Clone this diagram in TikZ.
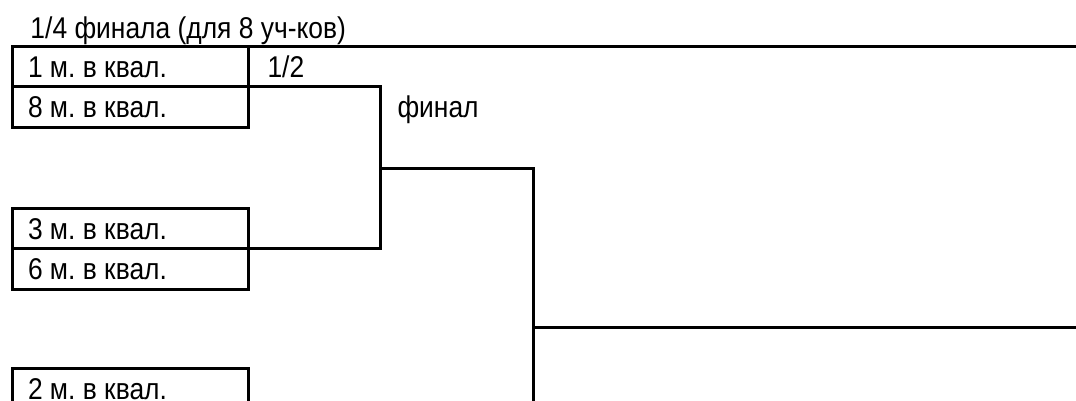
\documentclass[tikz,border=0pt]{standalone}
\usepackage{fontspec}
\setmainfont{Liberation Sans}[FakeStretch=0.88]
\begin{document}
\frenchspacing
\begin{tikzpicture}[x=1pt,y=-1pt, line width=3pt,
  font=\fontsize{30}{35}\selectfont,
  box/.style={draw, rectangle, minimum width=236pt, minimum height=40.5pt,
    inner sep=0pt, outer sep=0pt, anchor=north west, text height=21.5pt, text depth=0pt},
  lbl/.style={inner sep=0pt, anchor=west, text height=21.5pt, text depth=0pt}]
\useasboundingbox (0,0) rectangle (1076,401);
\clip (0,0) rectangle (1076,401);
% title
\node[lbl] (title) at (29,27.5) {1/4 финала (для 8 уч-ков)};
% quarter-final boxes
\node[box] (q1) at (12,46.5) {\makebox[204pt][l]{1 м. в квал.}};
\node[box] (q8) at (q1.south west) {\makebox[204pt][l]{8 м. в квал.}};
\node[box] (q3) at (12,208) {\makebox[204pt][l]{3 м. в квал.}};
\node[box] (q6) at (q3.south west) {\makebox[204pt][l]{6 м. в квал.}};
\node[box] (q2) at (12,368) {\makebox[204pt][l]{2 м. в квал.}};
% labels
\node[lbl] (half) at (266,66.75) {1/2};
\node[lbl] (fin) at (396,107.25) {финал};
% helper coordinates
\coordinate (topR) at (1076,46.5);
\coordinate (j1) at (380,168);
\coordinate (j2) at (533,327.5);
\coordinate (bot2) at (533,410);
\coordinate (finR) at (1076,327.5);
% connectors
\draw (q1.north east) -- (topR);
\draw (q8.north east) -| (j1) |- (q3.south east);
\draw (j1) -| (bot2);
\draw (j2) -- (finR);
\end{tikzpicture}
\end{document}
